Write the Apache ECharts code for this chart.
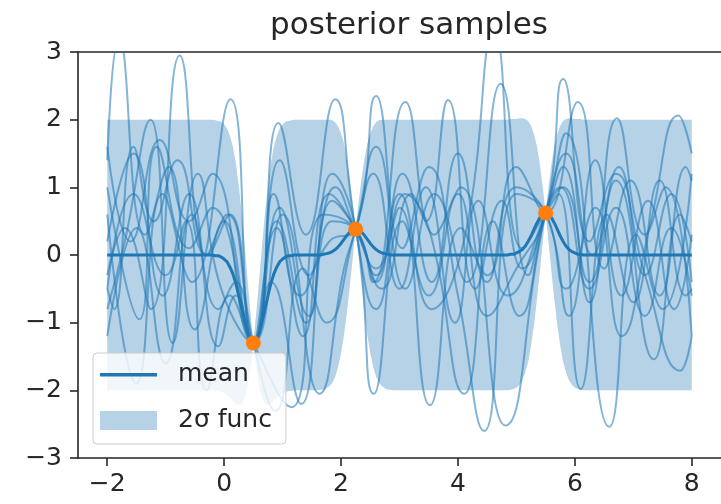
<!DOCTYPE html>
<html>
<head>
<meta charset="utf-8">
<script src="https://cdn.jsdelivr.net/npm/echarts@6/dist/echarts.min.js"></script>
<style>
  html, body { margin: 0; padding: 0; background: #ffffff; }
  #chart { width: 721px; height: 504px; }
</style>
</head>
<body>
<div id="chart"></div>
<script>
// Axis ticks
const xTicks = [-2, 0, 2, 4, 6, 8];
const yTicks = [-3, -2, -1, 0, 1, 2, 3];

// Observed points
const obsX = [0.5, 2.25, 5.5];
const obsY = [-1.3, 0.38, 0.62];

// x positions for the posterior mean and the 2-sigma band
const gridX = [
  -2,
  -0.2, -0.15, -0.1, -0.05, 0, 0.05, 0.1, 0.15, 0.2, 0.25, 0.3, 0.35, 0.4, 0.45, 0.5,
  0.55, 0.6, 0.65, 0.7, 0.75, 0.8, 0.85, 0.9, 0.95, 1, 1.05, 1.1, 1.15, 1.2,
  1.55, 1.6, 1.65, 1.7, 1.75, 1.8, 1.85, 1.9, 1.95, 2, 2.05, 2.1, 2.15, 2.2, 2.25,
  2.3, 2.35, 2.4, 2.45, 2.5, 2.55, 2.6, 2.65, 2.7, 2.75, 2.8, 2.85, 2.9, 2.95,
  4.8, 4.85, 4.9, 4.95, 5, 5.05, 5.1, 5.15, 5.2, 5.25, 5.3, 5.35, 5.4, 5.45, 5.5,
  5.55, 5.6, 5.65, 5.7, 5.75, 5.8, 5.85, 5.9, 5.95, 6, 6.05, 6.1, 6.15, 6.2,
  8
];

// posterior mean
const meanY = [
  0,
  0, -0.01, -0.01, -0.03, -0.06, -0.1, -0.18, -0.28, -0.42, -0.6, -0.79, -0.98, -1.15, -1.26, -1.3,
  -1.26, -1.15, -0.98, -0.79, -0.6, -0.42, -0.28, -0.18, -0.1, -0.06, -0.03, -0.01, -0.01, 0,
  0, 0, 0, 0.01, 0.02, 0.03, 0.05, 0.08, 0.12, 0.17, 0.23, 0.29, 0.34, 0.37, 0.38,
  0.37, 0.34, 0.29, 0.23, 0.17, 0.12, 0.08, 0.05, 0.03, 0.02, 0.01, 0, 0, 0,
  0, 0, 0.01, 0.01, 0.03, 0.05, 0.08, 0.13, 0.2, 0.28, 0.38, 0.47, 0.55, 0.6, 0.62,
  0.6, 0.55, 0.47, 0.38, 0.28, 0.2, 0.13, 0.08, 0.05, 0.03, 0.01, 0.01, 0, 0,
  0
];

// upper edge of the 2-sigma band
const bandHigh = [
  2,
  2, 1.99, 1.98, 1.97, 1.93, 1.87, 1.76, 1.6, 1.36, 1.03, 0.63, 0.16, -0.35, -0.85, -1.3,
  -0.85, -0.35, 0.16, 0.63, 1.03, 1.36, 1.6, 1.76, 1.87, 1.93, 1.97, 1.98, 1.99, 2,
  2, 2, 2, 2, 2, 2, 1.99, 1.96, 1.9, 1.8, 1.65, 1.42, 1.13, 0.78, 0.38,
  0.78, 1.13, 1.42, 1.65, 1.8, 1.9, 1.96, 1.99, 2, 2, 2, 2, 2, 2,
  2, 2, 2.01, 2.01, 2.01, 2.02, 2.02, 2.01, 1.98, 1.91, 1.79, 1.61, 1.35, 1.01, 0.62,
  1.01, 1.35, 1.61, 1.79, 1.91, 1.98, 2.01, 2.02, 2.02, 2.01, 2.01, 2.01, 2, 2,
  2
];

// lower edge of the 2-sigma band
const bandLow = [
  -2,
  -2, -2.01, -2.01, -2.03, -2.04, -2.07, -2.11, -2.16, -2.2, -2.22, -2.2, -2.12, -1.95, -1.67, -1.3,
  -1.67, -1.95, -2.12, -2.2, -2.22, -2.2, -2.16, -2.11, -2.07, -2.04, -2.03, -2.01, -2.01, -2,
  -2, -2, -1.99, -1.99, -1.97, -1.94, -1.89, -1.8, -1.66, -1.45, -1.19, -0.85, -0.46, -0.04, 0.38,
  -0.04, -0.46, -0.85, -1.19, -1.45, -1.66, -1.8, -1.89, -1.94, -1.97, -1.99, -1.99, -2, -2,
  -2, -2, -1.99, -1.98, -1.96, -1.92, -1.85, -1.74, -1.58, -1.34, -1.04, -0.67, -0.25, 0.19, 0.62,
  0.19, -0.25, -0.67, -1.04, -1.34, -1.58, -1.74, -1.85, -1.92, -1.96, -1.98, -1.99, -2, -2,
  -2
];

// posterior draws, as [x, y] turning points
const sampleA = [[-2,1.4],[-1.8,3.2],[-1.35,0.3],[-0.95,1.3],[-0.5,-1.1],[0,0.5],[0.5,-1.3],[0.95,0.7],[1.45,-0.9],[1.85,0.5],[2.25,0.38],[2.6,-0.4],[3,0.9],[3.55,-0.8],[4.1,0.2],[4.62,3.3],[5.1,0.1],[5.5,0.62],[5.72,0.9],[6.1,-1.98],[6.55,0.6],[7,-0.7],[7.45,1.1],[7.9,-0.6],[8,-0.5]];
const sampleB = [[-2,-0.3],[-1.7,0.4],[-1.25,-0.8],[-0.76,2.95],[-0.3,0],[0.05,0.6],[0.5,-1.3],[0.88,-2.3],[1.35,-0.2],[1.75,-1],[2.25,0.38],[2.55,1.2],[3,-0.5],[3.45,1],[3.95,-1],[4.35,0.8],[4.85,-0.6],[5.5,0.62],[5.8,1.3],[6.25,-0.7],[6.72,2.02],[7.2,0.3],[7.55,1],[8,-1.2]];
const sampleC = [[-2,0.6],[-1.5,-1.9],[-1.05,0.9],[-0.55,-0.4],[0.11,2.3],[0.5,-1.3],[0.9,0.4],[1.35,-1.2],[1.8,0.9],[2.25,0.38],[2.6,-0.3],[3.05,1.2],[3.55,-0.4],[4,1.5],[4.5,-0.4],[5,1],[5.5,0.62],[5.85,-0.5],[6.35,0.7],[6.8,-1.2],[7.3,0.5],[7.77,2.06],[8,1.5]];
const sampleD = [[-2,1],[-1.45,-0.95],[-1.15,1.6],[-0.6,0.1],[-0.2,0.7],[0.5,-1.3],[0.93,1.95],[1.4,0.3],[1.9,2.3],[2.25,0.38],[2.6,-0.8],[3.1,0.9],[3.5,0.4],[4.11,-2.05],[4.6,0.5],[5.05,-0.9],[5.5,0.62],[5.85,1.5],[6.3,0],[6.75,1.3],[7.2,-0.3],[7.65,0.9],[8,-0.4]];
const sampleE = [[-2,-0.8],[-1.7,0.2],[-1.26,2],[-0.88,-1.3],[-0.45,1.2],[-0.05,-0.5],[0.5,-1.3],[0.85,0.9],[1.3,-0.6],[1.8,0.2],[2.25,0.38],[2.6,2.35],[3.05,0.1],[3.5,1.3],[4,-0.6],[4.45,-2.6],[5,0.9],[5.5,0.62],[5.9,-0.9],[6.35,1.4],[6.8,-0.6],[7.25,0.8],[7.7,-0.8],[8,0.3]];
const sampleF = [[-2,0.2],[-1.55,1.5],[-1.05,-0.6],[-0.6,0.9],[-0.1,-1.35],[0.2,-0.6],[0.5,-1.3],[1.15,-2.25],[1.7,0.6],[2.25,0.38],[2.55,-0.4],[3.1,2.26],[3.6,0.3],[4.05,1],[4.81,-2.52],[5.5,0.62],[5.75,1],[6.25,-0.5],[6.7,0.7],[7.2,-0.9],[7.65,0.4],[8,-0.6]];
const sampleG = [[-2,1.6],[-1.6,0.2],[-1.1,1.7],[-0.6,0.5],[-0.2,1.2],[0.5,-1.3],[0.8,-0.4],[1.32,-2.2],[1.85,0.8],[2.25,0.38],[2.7,-0.5],[3.2,0.9],[3.45,0.5],[3.83,2.29],[4.3,-0.5],[4.75,0.8],[5.1,-0.2],[5.5,0.62],[5.85,1.8],[6.59,-2.54],[7.05,0.3],[7.5,-0.8],[8,1.2]];
const sampleH = [[-2,-0.5],[-1.55,0.9],[-1,-0.3],[-0.65,0.5],[-0.3,-2],[0.1,-0.6],[0.5,-1.3],[1,0.6],[1.63,-2.05],[2.05,-0.2],[2.25,0.38],[2.6,1.6],[3.1,-0.5],[3.6,0.9],[4.15,-0.4],[4.73,2.53],[5.2,-0.3],[5.5,0.62],[5.8,1],[6.25,-0.4],[6.7,1.1],[7.35,-1.54],[7.8,0.6],[8,0.2]];
const sampleI = [[-2,-0.5],[-1.88,-0.8],[-1.55,1.6],[-1.2,0.5],[-0.8,1.4],[-0.3,0],[0.1,0.6],[0.5,-1.3],[0.9,0.5],[1.4,-1],[1.85,1.2],[2.25,0.38],[2.56,-2.05],[3.05,0.5],[3.5,-0.6],[4,0.9],[4.5,-0.9],[5,-0.2],[5.5,0.62],[5.8,2.6],[6.25,0.2],[6.7,1.2],[7.2,-0.3],[7.8,-1.71],[8,-1.2]];
const sampleJ = [[-2,-1.2],[-1.5,0.4],[-1,-1.6],[-0.55,0.6],[-0.1,-0.8],[0.2,-0.4],[0.5,-1.3],[0.95,1.4],[1.45,-0.3],[1.9,1],[2.25,0.38],[2.6,-0.2],[3,0.7],[3.52,-2.22],[4.05,0.4],[4.5,-0.3],[5,1.3],[5.5,0.62],[6.05,2.26],[6.5,-0.2],[6.95,1.1],[7.45,-0.6],[7.9,1.3],[8,1.1]];
const samples = [sampleA, sampleB, sampleC, sampleD, sampleE, sampleF, sampleG, sampleH, sampleI, sampleJ];

const FONT = 'DejaVu Sans';
const INK = '#262626';
const BLUE = '#1f77b4';
const BAND = 'rgba(31,119,180,0.33)';

const minusFmt = v => (v < 0 ? '\u2212' + (-v) : String(v));

const series = [];

// 2-sigma band: one filled polygon, upper edge left to right, lower edge back
series.push({
  type: 'custom',
  name: '2σ func',
  data: gridX.map((x, i) => [x, bandLow[i], bandHigh[i]]),
  encode: { x: 0, y: [1, 2] },
  renderItem: (params, api) => {
    if (params.dataIndex !== 0) return null;
    const pts = [];
    for (let i = 0; i < gridX.length; i++) pts.push(api.coord([gridX[i], bandHigh[i]]));
    for (let i = gridX.length - 1; i >= 0; i--) pts.push(api.coord([gridX[i], bandLow[i]]));
    return { type: 'polygon', shape: { points: pts }, style: { fill: BAND }, silent: true };
  },
  itemStyle: { color: BAND },
  clip: true,
  silent: true,
  z: 1
});

// posterior draws
samples.forEach((s, k) => {
  series.push({
    type: 'line',
    name: 'draw' + k,
    data: s,
    smooth: 0.5,
    symbol: 'none',
    lineStyle: { color: 'rgba(31,119,180,0.55)', width: 2 },
    silent: true,
    z: 2
  });
});

// posterior mean
series.push({
  type: 'line',
  name: 'mean',
  data: gridX.map((x, i) => [x, meanY[i]]),
  symbol: 'none',
  lineStyle: { color: BLUE, width: 3 },
  itemStyle: { color: BLUE },
  silent: true,
  z: 3
});

// observations
series.push({
  type: 'scatter',
  name: 'obs',
  data: obsX.map((x, i) => [x, obsY[i]]),
  symbolSize: 15,
  itemStyle: { color: '#ff7f0e', opacity: 1 },
  silent: true,
  z: 4
});

const spine = { show: true, onZero: false, lineStyle: { color: INK, width: 1.6 } };
const tickStyle = { color: INK, width: 1.6 };

const chart = echarts.init(document.getElementById('chart'), null, { renderer: 'canvas' });
chart.setOption({
  animation: false,
  backgroundColor: '#ffffff',
  title: {
    text: 'posterior samples',
    left: 404,
    top: 5,
    textAlign: 'center',
    textStyle: { fontSize: 31, fontWeight: 'normal', color: INK, fontFamily: FONT }
  },
  legend: {
    data: [
      { name: 'mean', icon: 'path://M0,0 L0.01,0 M0,8 L57,8 L57,11.5 L0,11.5 Z M0,19 L0.01,19', itemStyle: { color: BLUE } },
      { name: '2σ func', icon: 'rect', itemStyle: { color: BAND } }
    ],
    orient: 'vertical',
    left: 93,
    top: 353,
    itemWidth: 57,
    itemHeight: 19,
    itemGap: 21,
    padding: [9, 14, 11, 7],
    backgroundColor: 'rgba(255,255,255,0.8)',
    borderColor: '#cccccc',
    borderWidth: 1,
    borderRadius: 4,
    selectedMode: false,
    textStyle: { fontSize: 25, color: INK, fontFamily: FONT, padding: [0, 0, 0, 16] }
  },
  grid: { left: 78, top: 52, width: 652, height: 406 },
  xAxis: [
    {
      type: 'value',
      min: -2.5,
      max: 8.5,
      position: 'bottom',
      axisLine: spine,
      splitLine: { show: false },
      axisTick: { show: true, customValues: xTicks, length: 8, lineStyle: tickStyle },
      axisLabel: { customValues: xTicks, margin: 14, fontSize: 25, color: INK, fontFamily: FONT, formatter: minusFmt }
    },
    {
      type: 'value',
      min: -2.5,
      max: 8.5,
      position: 'top',
      axisLine: spine,
      splitLine: { show: false },
      axisTick: { show: false },
      axisLabel: { show: false }
    }
  ],
  yAxis: {
    type: 'value',
    min: -3,
    max: 3,
    interval: 1,
    axisLine: spine,
    splitLine: { show: false },
    axisTick: { show: true, customValues: yTicks, length: 8, lineStyle: tickStyle },
    axisLabel: { customValues: yTicks, margin: 16, fontSize: 25, color: INK, fontFamily: FONT, formatter: minusFmt }
  },
  series: series
});
</script>
</body>
</html>
